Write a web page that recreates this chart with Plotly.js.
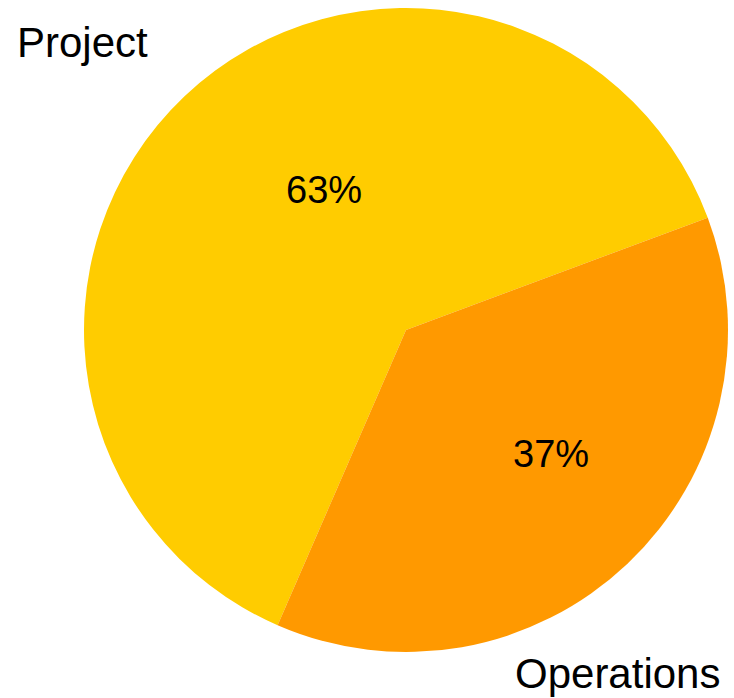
<!DOCTYPE html>
<html>
<head>
<meta charset="utf-8">
<script src="https://cdn.plot.ly/plotly-3.0.1.min.js"></script>
<style>html,body{margin:0;padding:0;background:#fff;}#chart{width:734px;height:698px;}</style>
</head>
<body>
<div id="chart"></div>
<script>
const categories = ["Project", "Operations"];
const values = [62.8, 37.2];
const colors = ["#FFCC00", "#FF9900"];

const total = values.reduce((a, b) => a + b, 0);
const pctText = values.map(v => Math.round(100 * v / total) + "%");

const data = [{
  type: "pie",
  labels: categories,
  values: values,
  sort: false,
  direction: "counterclockwise",
  rotation: -156.5,
  marker: {colors: colors, line: {width: 0}},
  textinfo: "none",
  hoverinfo: "label+percent",
  showlegend: false
}];

const font = "Liberation Sans, Arial, sans-serif";
const layout = {
  width: 734, height: 698,
  margin: {l: 84, r: 6, t: 8, b: 46},
  paper_bgcolor: "#fff",
  font: {family: font, color: "#000"},
  showlegend: false,
  annotations: [
    {text: categories[0], xref: "paper", yref: "paper", x: -0.0016, y: 0.946, xanchor: "center", yanchor: "middle", showarrow: false, font: {size: 42, color: "#000"}},
    {text: categories[1], xref: "paper", yref: "paper", x: 0.829, y: -0.033, xanchor: "center", yanchor: "middle", showarrow: false, font: {size: 42, color: "#000"}},
    {text: pctText[0], xref: "paper", yref: "paper", x: 0.3727, y: 0.7174, xanchor: "center", yanchor: "middle", showarrow: false, font: {size: 38, color: "#000"}},
    {text: pctText[1], xref: "paper", yref: "paper", x: 0.7252, y: 0.3075, xanchor: "center", yanchor: "middle", showarrow: false, font: {size: 38, color: "#000"}}
  ]
};

Plotly.newPlot("chart", data, layout, {staticPlot: true, displayModeBar: false});
</script>
</body>
</html>
